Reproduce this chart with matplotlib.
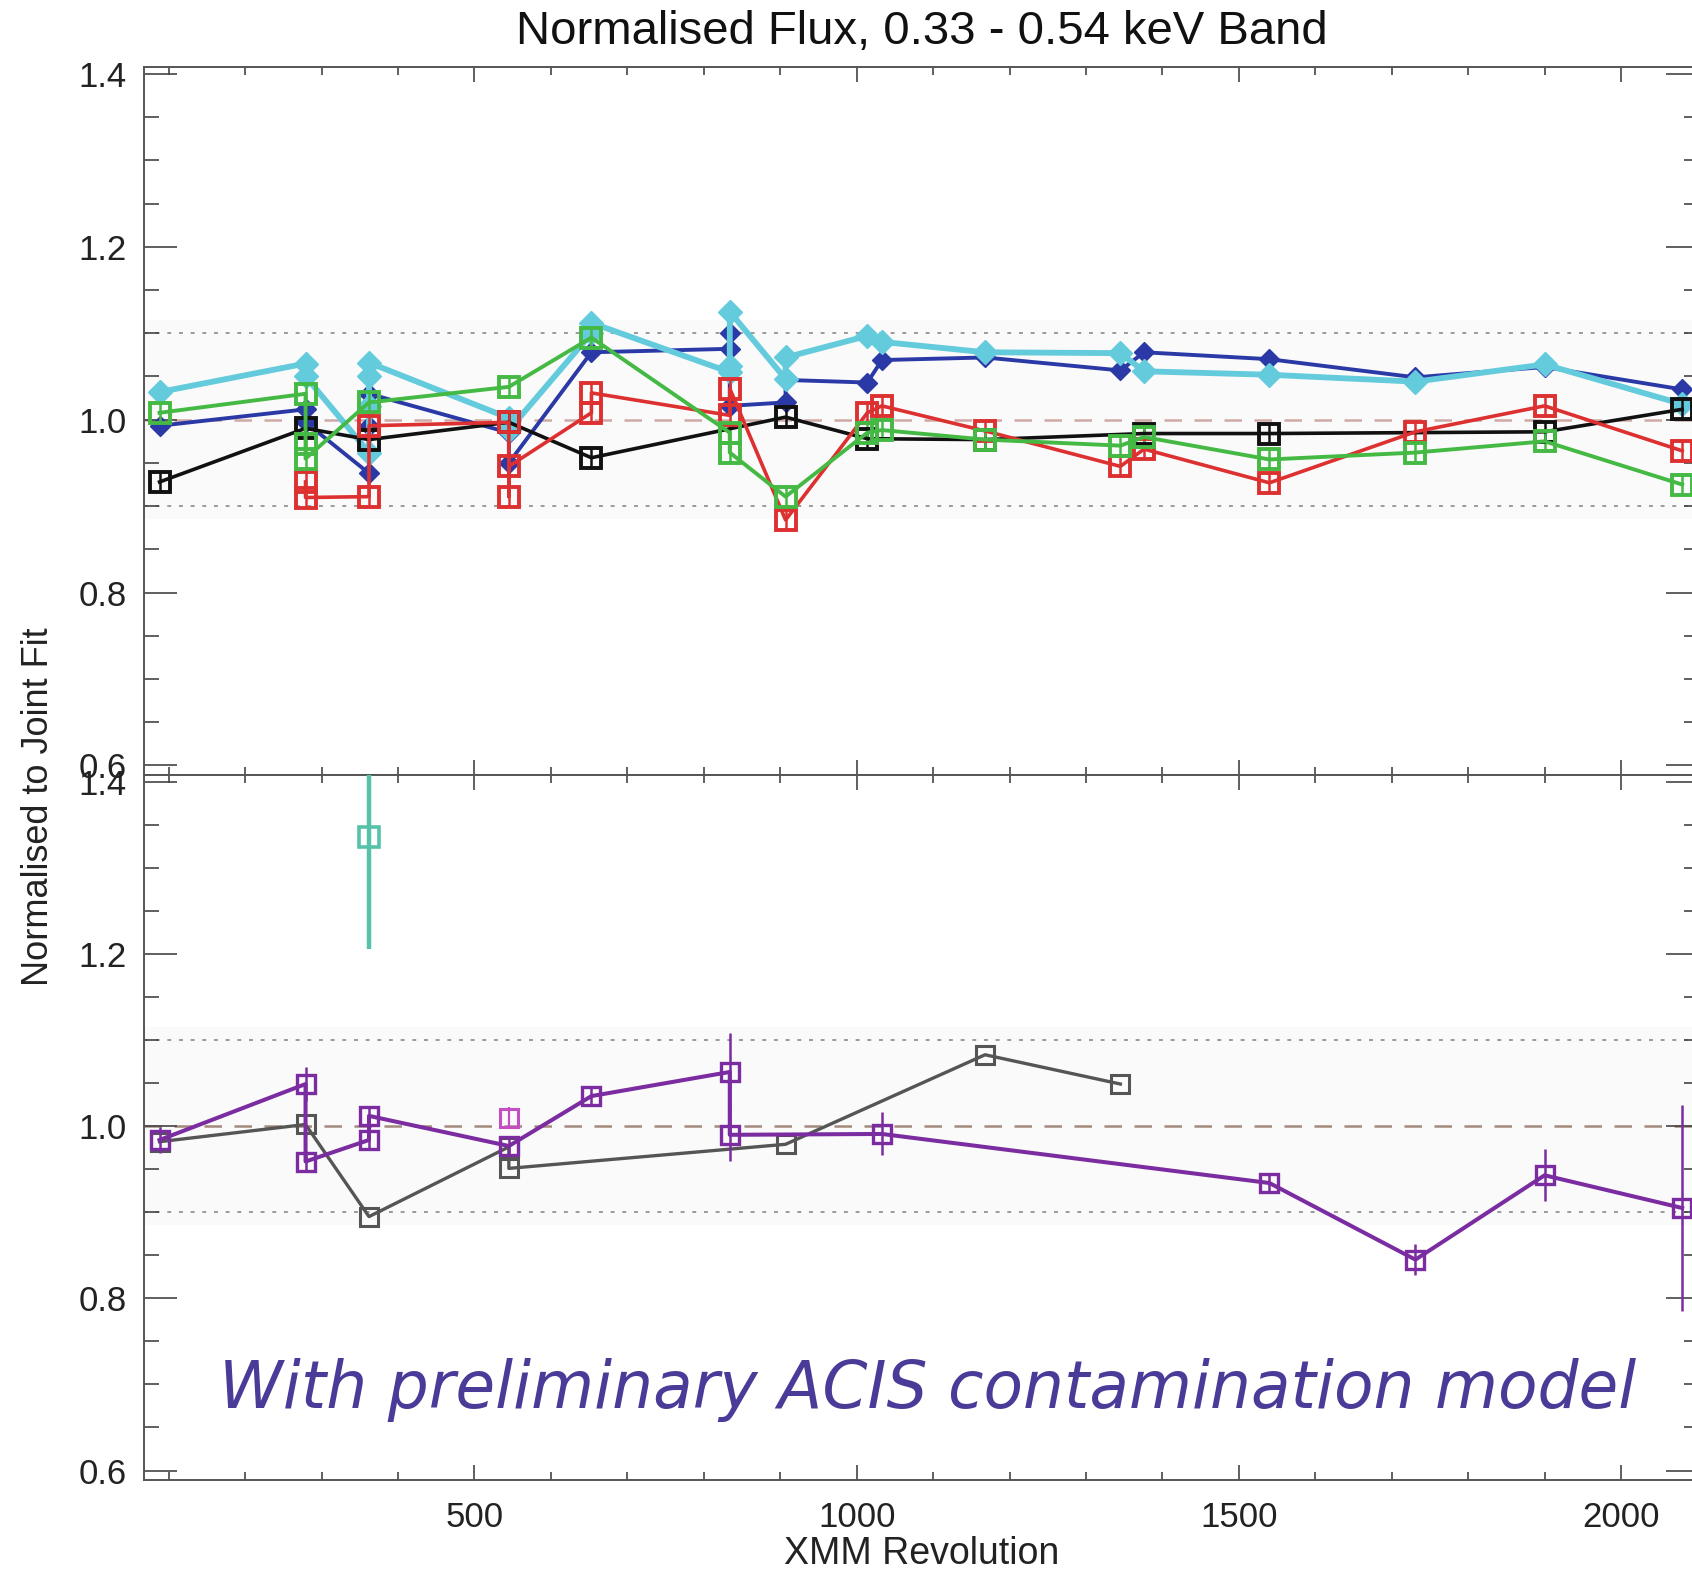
import matplotlib.pyplot as plt
from matplotlib.ticker import MultipleLocator, FormatStrFormatter

plt.rcParams['font.family'] = ['Liberation Sans', 'DejaVu Sans']

# ---- top panel: normalised flux per instrument vs XMM revolution ----
blk_rev = [88, 279, 362, 545, 653, 907, 1014, 1168, 1376, 1540, 1900, 2080]
blk_flux = [0.928, 0.990, 0.977, 0.997, 0.956, 1.003, 0.978, 0.977, 0.984, 0.984, 0.986, 1.012]

red_rev = [279, 279, 362, 362, 545, 545, 545, 653, 653, 834, 834, 907, 1014, 1033,
           1168, 1345, 1376, 1540, 1731, 1900, 2080]
red_flux = [0.928, 0.910, 0.911, 0.993, 0.997, 0.911, 0.946, 1.008, 1.031, 1.005, 1.036, 0.884,
            1.008, 1.016, 0.987, 0.946, 0.966, 0.927, 0.986, 1.016, 0.964]

grn_rev = [88, 279, 279, 279, 362, 545, 653, 834, 834, 907, 1014, 1033, 1168, 1345, 1376,
           1540, 1731, 1900, 2080]
grn_flux = [1.008, 1.030, 0.972, 0.955, 1.020, 1.038, 1.095, 0.985, 0.962, 0.911, 0.985, 0.988,
            0.977, 0.970, 0.980, 0.954, 0.962, 0.975, 0.925]

blu_rev = [88, 279, 279, 362, 362, 362, 545, 545, 653, 834, 834, 834, 907, 907, 1014, 1033,
           1168, 1345, 1376, 1540, 1731, 1900, 2080]
blu_flux = [0.993, 1.012, 0.997, 0.938, 0.993, 1.030, 0.985, 0.950, 1.078, 1.082, 1.100, 1.016,
            1.020, 1.046, 1.043, 1.069, 1.072, 1.057, 1.078, 1.070, 1.049, 1.061, 1.035]

cyn_rev = [88, 279, 279, 362, 362, 362, 362, 545, 545, 653, 653, 834, 834, 834, 907, 907,
           1014, 1033, 1168, 1345, 1376, 1540, 1731, 1900, 2080]
cyn_flux = [1.032, 1.065, 1.050, 0.962, 1.016, 1.051, 1.066, 1.002, 0.988, 1.100, 1.112, 1.055,
            1.062, 1.125, 1.047, 1.072, 1.097, 1.090, 1.078, 1.077, 1.056, 1.052, 1.044, 1.064,
            1.018]

# typical error bar sizes in the top panel
sq_err = 0.012
dm_err = 0.008

# ---- bottom panel: with preliminary ACIS contamination model ----
pur_rev = [88, 279, 279, 362, 362, 545, 653, 834, 834, 1033, 1540, 1731, 1900, 2080]
pur_flux = [0.984, 1.049, 0.959, 0.984, 1.012, 0.977, 1.035, 1.063, 0.990, 0.991, 0.934,
            0.845, 0.943, 0.905]
pur_err = [0.015, 0.020, 0.012, 0.010, 0.012, 0.012, 0.012, 0.045, 0.030, 0.025, 0.012,
           0.018, 0.030, 0.120]

gry_rev = [88, 279, 362, 545, 545, 907, 1168, 1345]
gry_flux = [0.982, 1.002, 0.895, 0.976, 0.951, 0.979, 1.083, 1.049]

mag_rev = [545]
mag_flux = [1.010]
mag_err = [0.012]

tea_rev = [362]
tea_flux = [1.336]
tea_err = [0.13]

W, H = 1692, 1571
fig = plt.figure(figsize=(W / 100, H / 100), dpi=100)
left = 143.5 / W
width = (1699 - 143.5) / W
ax1 = fig.add_axes([left, 1 - 775 / H, width, 708 / H])
ax2 = fig.add_axes([left, 1 - 1480 / H, width, 705 / H])

for ax, dash_col in ((ax1, '#cfa9a6'), (ax2, '#a38a7c')):
    ax.axhspan(0.885, 1.115, color='#fafafa', zorder=0, lw=0)
    ax.axhline(1.1, color='#9a9a9a', lw=1.4, ls=(0, (2, 4)), zorder=1)
    ax.axhline(0.9, color='#9a9a9a', lw=1.4, ls=(0, (2, 4)), zorder=1)
    ax.axhline(1.0, color=dash_col, lw=1.8, ls=(0, (7, 5)), zorder=1)

# top panel series
ax1.errorbar(blu_rev, blu_flux, yerr=dm_err, fmt='-D', color='#2b39a6', lw=2.8, ms=10,
             elinewidth=1.8, zorder=3)
ax1.errorbar(cyn_rev, cyn_flux, yerr=dm_err, fmt='-D', color='#63cbdc', lw=4.2, ms=12,
             elinewidth=1.8, zorder=3)
ax1.errorbar(blk_rev, blk_flux, yerr=sq_err, fmt='-s', color='#111111', lw=2.6, ms=14,
             mfc='none', mew=2.8, elinewidth=1.8, zorder=4)
ax1.errorbar(red_rev, red_flux, yerr=sq_err, fmt='-s', color='#dd3030', lw=2.6, ms=14,
             mfc='none', mew=2.8, elinewidth=1.8, zorder=4)
ax1.errorbar(grn_rev, grn_flux, yerr=sq_err, fmt='-s', color='#44b944', lw=2.8, ms=14,
             mfc='none', mew=2.8, elinewidth=1.8, zorder=4)

# bottom panel series
ax2.errorbar(tea_rev, tea_flux, yerr=tea_err, fmt='s', color='#57c2aa', ms=14,
             mfc='none', mew=2.6, elinewidth=3.2, zorder=3)
ax2.errorbar(gry_rev, gry_flux, fmt='-s', color='#555555', lw=2.4, ms=13,
             mfc='none', mew=2.2, zorder=3)
ax2.errorbar(mag_rev, mag_flux, yerr=mag_err, fmt='s', color='#c64ec4', ms=13,
             mfc='none', mew=2.2, elinewidth=1.6, zorder=3)
ax2.errorbar(pur_rev, pur_flux, yerr=pur_err, fmt='-s', color='#7a2ca0', lw=2.9, ms=13,
             mfc='none', mew=2.4, elinewidth=1.8, zorder=4)

ax2.text(928 / W, 1 - 1408 / H, 'With preliminary ACIS contamination model',
         transform=fig.transFigure, ha='center', va='baseline', fontsize=46.5,
         style='oblique', family=['DejaVu Sans'], color='#4b3b98')

for ax in (ax1, ax2):
    ax.set_xlim(67, 2102)
    ax.set_ylim(0.589, 1.408)
    ax.xaxis.set_major_locator(MultipleLocator(500))
    ax.xaxis.set_minor_locator(MultipleLocator(100))
    ax.yaxis.set_major_locator(MultipleLocator(0.2))
    ax.yaxis.set_minor_locator(MultipleLocator(0.05))
    ax.yaxis.set_major_formatter(FormatStrFormatter('%.1f'))
    for s in ax.spines.values():
        s.set_color('#555555')
        s.set_linewidth(1.4)
    ax.tick_params(which='both', direction='in', top=True, right=True, color='#444444',
                   width=1.2, labelsize=25, labelcolor='#222222')
    ax.tick_params(axis='y', which='major', length=24, pad=12)
    ax.tick_params(axis='y', which='minor', length=11)
    ax.tick_params(axis='x', which='major', length=11, pad=15)
    ax.tick_params(axis='x', which='minor', length=6)

fig.text(922 / W, 1 - 32 / H, 'Normalised Flux, 0.33 - 0.54 keV Band',
         ha='center', va='center', fontsize=34, color='#111111')
fig.text(38 / W, 1 - 807 / H, 'Normalised to Joint Fit', rotation=90,
         ha='center', va='center', fontsize=26, color='#222222')
fig.text(922 / W, 1 - 1554 / H, 'XMM Revolution',
         ha='center', va='center', fontsize=27, color='#222222')

fig.savefig('out.png', dpi=100)
